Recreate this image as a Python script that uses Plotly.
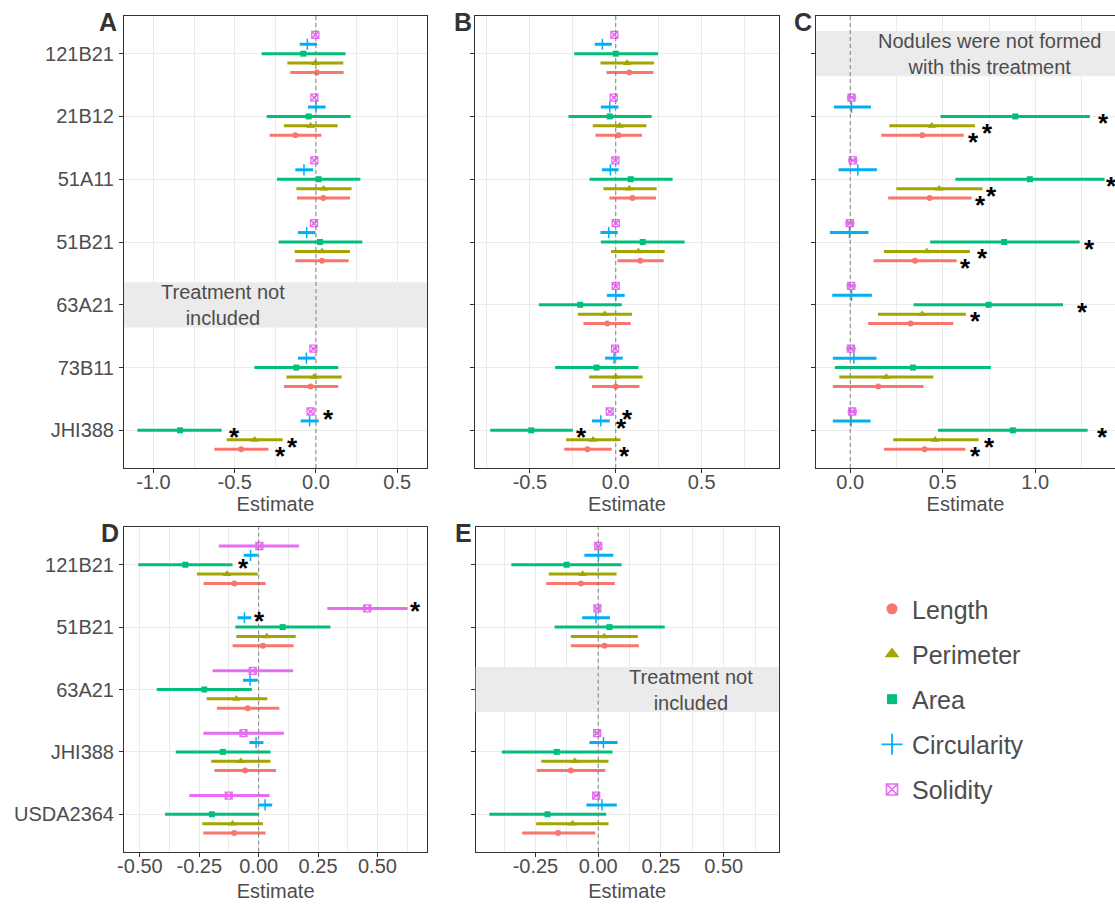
import plotly.graph_objects as go

W, H = 1115, 904

MEASURES = ["Length", "Perimeter", "Area", "Circularity", "Solidity"]
COLORS = ["#F8766D", "#A3A500", "#00BF7D", "#00B0F6", "#E76BF3"]

# ---------------- Panel A ----------------
A_CATS = ["121B21", "21B12", "51A11", "51B21", "63A21", "73B11", "JHI388"]
A_EST = [
    [0.006, -0.127, 0.045, 0.037, None, -0.033, -0.461],
    [-0.004, -0.033, 0.047, 0.037, None, -0.012, -0.377],
    [-0.078, -0.045, 0.016, 0.025, None, -0.121, -0.836],
    [-0.053, 0.000, -0.074, -0.057, None, -0.059, -0.039],
    [-0.004, -0.010, -0.010, -0.012, None, -0.016, -0.033],
]
A_LO = [
    [-0.158, -0.285, -0.117, -0.127, None, -0.197, -0.625],
    [-0.176, -0.197, -0.121, -0.131, None, -0.182, -0.549],
    [-0.334, -0.303, -0.240, -0.230, None, -0.379, -1.099],
    [-0.100, -0.049, -0.127, -0.111, None, -0.111, -0.094],
    [-0.014, -0.020, -0.020, -0.022, None, -0.026, -0.043],
]
A_HI = [
    [0.170, 0.033, 0.209, 0.201, None, 0.137, -0.293],
    [0.168, 0.133, 0.219, 0.209, None, 0.158, -0.205],
    [0.182, 0.213, 0.273, 0.285, None, 0.137, -0.580],
    [0.006, 0.059, -0.018, -0.004, None, -0.004, 0.016],
    [0.006, 0.000, 0.000, -0.002, None, -0.006, -0.023],
]
A_STAR = [
    [None, None, None, None, None, None, -0.221],
    [None, None, None, None, None, None, -0.143],
    [None, None, None, None, None, None, -0.502],
    [None, None, None, None, None, None, None],
    [None, None, None, None, None, None, 0.076],
]

# ---------------- Panel B ----------------
B_CATS = A_CATS
B_EST = [
    [0.079, 0.016, 0.097, 0.143, -0.050, 0.000, -0.165],
    [0.066, 0.023, 0.079, 0.132, -0.064, 0.000, -0.132],
    [0.000, -0.035, 0.087, 0.157, -0.207, -0.112, -0.492],
    [-0.078, -0.035, -0.031, -0.041, 0.000, -0.010, -0.087],
    [-0.008, -0.012, -0.002, 0.000, 0.000, -0.004, -0.035],
]
B_LO = [
    [-0.054, -0.118, -0.037, 0.010, -0.188, -0.138, -0.300],
    [-0.089, -0.134, -0.072, -0.027, -0.221, -0.155, -0.289],
    [-0.242, -0.275, -0.153, -0.087, -0.448, -0.353, -0.731],
    [-0.122, -0.087, -0.081, -0.089, -0.052, -0.062, -0.138],
    [-0.018, -0.022, -0.012, -0.010, -0.010, -0.014, -0.045],
]
B_HI = [
    [0.219, 0.153, 0.234, 0.279, 0.087, 0.138, -0.023],
    [0.223, 0.178, 0.238, 0.285, 0.095, 0.157, 0.027],
    [0.246, 0.209, 0.331, 0.401, 0.035, 0.132, -0.250],
    [-0.023, 0.016, 0.017, 0.012, 0.052, 0.041, -0.035],
    [0.002, -0.002, 0.008, 0.010, 0.010, 0.006, -0.025],
]
B_STAR = [
    [None, None, None, None, None, None, 0.050],
    [None, None, None, None, None, None, None],
    [None, None, None, None, None, None, -0.198],
    [None, None, None, None, None, None, 0.035],
    [None, None, None, None, None, None, 0.070],
]

# ---------------- Panel C ----------------
C_CATS = A_CATS
C_EST = [
    [None, 0.389, 0.429, 0.350, 0.326, 0.151, 0.402],
    [None, 0.441, 0.481, 0.414, 0.389, 0.195, 0.459],
    [None, 0.892, 0.971, 0.832, 0.748, 0.339, 0.879],
    [None, 0.007, 0.041, -0.004, 0.007, 0.020, 0.005],
    [None, 0.007, 0.014, -0.002, 0.005, 0.004, 0.011],
]
C_LO = [
    [None, 0.168, 0.205, 0.126, 0.097, -0.094, 0.182],
    [None, 0.211, 0.249, 0.182, 0.150, -0.059, 0.232],
    [None, 0.488, 0.568, 0.432, 0.342, -0.083, 0.474],
    [None, -0.088, -0.063, -0.110, -0.097, -0.094, -0.094],
    [None, -0.018, -0.011, -0.027, -0.020, -0.021, -0.014],
]
C_HI = [
    [None, 0.613, 0.656, 0.575, 0.557, 0.396, 0.623],
    [None, 0.674, 0.715, 0.647, 0.625, 0.449, 0.694],
    [None, 1.295, 1.375, 1.240, 1.150, 0.760, 1.283],
    [None, 0.112, 0.144, 0.099, 0.117, 0.142, 0.110],
    [None, 0.032, 0.039, 0.023, 0.030, 0.029, 0.036],
]
C_STAR = [
    [None, 0.665, 0.703, 0.625, None, None, 0.676],
    [None, 0.741, 0.762, 0.714, 0.676, None, 0.750],
    [None, 1.371, 1.413, 1.292, 1.258, None, 1.362],
    [None, None, None, None, None, None, None],
    [None, None, None, None, None, None, None],
]

# ---------------- Panel D ----------------
D_CATS = ["121B21", "51B21", "63A21", "JHI388", "USDA2364"]
D_EST = [
    [-0.102, 0.018, -0.046, -0.057, -0.103],
    [-0.133, 0.034, -0.094, -0.075, -0.110],
    [-0.309, 0.101, -0.229, -0.151, -0.197],
    [-0.034, -0.060, -0.036, -0.011, 0.027],
    [0.003, 0.457, -0.025, -0.064, -0.126],
]
D_LO = [
    [-0.232, -0.110, -0.176, -0.186, -0.233],
    [-0.260, -0.094, -0.219, -0.200, -0.237],
    [-0.507, -0.098, -0.429, -0.349, -0.394],
    [-0.063, -0.089, -0.066, -0.039, -0.003],
    [-0.168, 0.289, -0.194, -0.233, -0.292],
]
D_HI = [
    [0.029, 0.147, 0.087, 0.073, 0.029],
    [-0.004, 0.156, 0.036, 0.050, 0.018],
    [-0.110, 0.302, -0.029, 0.050, 0.001],
    [-0.004, -0.031, -0.004, 0.020, 0.057],
    [0.170, 0.627, 0.145, 0.106, 0.046],
]
D_STAR = [
    [None, None, None, None, None],
    [None, None, None, None, None],
    [-0.064, None, None, None, None],
    [None, 0.003, None, None, None],
    [None, 0.662, None, None, None],
]

# ---------------- Panel E ----------------
E_CATS = D_CATS
E_EST = [
    [-0.069, 0.025, None, -0.109, -0.160],
    [-0.062, 0.024, None, -0.093, -0.102],
    [-0.126, 0.045, None, -0.165, -0.202],
    [0.001, -0.009, None, 0.021, 0.015],
    [0.000, -0.003, None, -0.004, -0.008],
]
E_LO = [
    [-0.207, -0.109, None, -0.245, -0.303],
    [-0.197, -0.109, None, -0.227, -0.247],
    [-0.346, -0.174, None, -0.384, -0.434],
    [-0.055, -0.064, None, -0.035, -0.047],
    [-0.010, -0.013, None, -0.014, -0.018],
]
E_HI = [
    [0.066, 0.162, None, 0.028, -0.012],
    [0.073, 0.158, None, 0.041, 0.041],
    [0.093, 0.265, None, 0.057, 0.032],
    [0.060, 0.047, None, 0.077, 0.074],
    [0.010, 0.007, None, 0.006, 0.002],
]
E_STAR = [[None] * 5 for _ in range(5)]

# x-axis ticks per panel
A_TICKS = [-1.0, -0.5, 0.0, 0.5]
A_TICKTEXT = ["-1.0", "-0.5", "0.0", "0.5"]
B_TICKS = [-0.5, 0.0, 0.5]
B_TICKTEXT = ["-0.5", "0.0", "0.5"]
C_TICKS = [0.0, 0.5, 1.0]
C_TICKTEXT = ["0.0", "0.5", "1.0"]
D_TICKS = [-0.5, -0.25, 0.0, 0.25, 0.5]
D_TICKTEXT = ["-0.50", "-0.25", "0.00", "0.25", "0.50"]
E_TICKS = [-0.25, 0.0, 0.25, 0.5]
E_TICKTEXT = ["-0.25", "0.00", "0.25", "0.50"]

# notes: (category, text, x position of text)
A_NOTE = ("63A21", "Treatment not<br>included", -0.57)
C_NOTE = ("121B21", "Nodules were not formed<br>with this treatment", 0.755)
E_NOTE = ("63A21", "Treatment not<br>included", 0.37)


def px_x(v):
    return v / W


def px_y(v):
    return 1 - v / H


panels = [
    dict(lab="A", cats=A_CATS, est=A_EST, lo=A_LO, hi=A_HI, star=A_STAR,
         ticks=A_TICKS, ticktext=A_TICKTEXT, minor=[-0.75, -0.25, 0.25],
         xr=[-1.181, 0.683], xd=[124, 427], yd=[16, 468], note=A_NOTE,
         showlab=True, mirror_y=True, labpos=(108, 22), sshift=0, tstand=4),
    dict(lab="B", cats=B_CATS, est=B_EST, lo=B_LO, hi=B_HI, star=B_STAR,
         ticks=B_TICKS, ticktext=B_TICKTEXT, minor=[-0.75, -0.25, 0.25, 0.75],
         xr=[-0.818, 0.949], xd=[475.3, 778.7], yd=[16, 468], note=None,
         showlab=False, mirror_y=True, labpos=(463, 22), sshift=0, tstand=4),
    dict(lab="C", cats=C_CATS, est=C_EST, lo=C_LO, hi=C_HI, star=C_STAR,
         ticks=C_TICKS, ticktext=C_TICKTEXT, minor=[0.25, 0.75, 1.25],
         xr=[-0.185, 1.431], xd=[816, 1115], yd=[16, 468], note=C_NOTE,
         showlab=False, mirror_y=False, labpos=(803, 22), sshift=0, tstand=4),
    dict(lab="D", cats=D_CATS, est=D_EST, lo=D_LO, hi=D_HI, star=D_STAR,
         ticks=D_TICKS, ticktext=D_TICKTEXT, minor=[-0.375, -0.125, 0.125, 0.375, 0.625],
         xr=[-0.567, 0.710], xd=[124, 427.3], yd=[527.3, 851.7], note=None,
         showlab=True, mirror_y=True, labpos=(110, 533), sshift=4, tstand=8),
    dict(lab="E", cats=E_CATS, est=E_EST, lo=E_LO, hi=E_HI, star=E_STAR,
         ticks=E_TICKS, ticktext=E_TICKTEXT, minor=[-0.375, -0.125, 0.125, 0.375, 0.625],
         xr=[-0.488, 0.719], xd=[475.7, 778.7], yd=[527.3, 851.7], note=E_NOTE,
         showlab=False, mirror_y=True, labpos=(463, 533), sshift=0, tstand=8),
]

SYMBOLS = ["circle", "triangle-up", "square", "cross-thin", "square-x-open"]
SIZES = [6, 7.5, 6, 8, 7]
LINEW = [0, 0, 0, 1.5, 1.3]

FONT = "Liberation Sans, Arial, sans-serif"
TXT = "#4D4D4D"

fig = go.Figure()
layout = dict(
    width=W, height=H, margin=dict(l=0, r=0, t=0, b=0, autoexpand=False),
    plot_bgcolor="white", paper_bgcolor="white",
    font=dict(family=FONT, size=20, color=TXT),
    shapes=[], annotations=[],
)

for p, pan in enumerate(panels, start=1):
    sx = "" if p == 1 else str(p)
    xref, yref = "x" + sx, "y" + sx
    n = len(pan["cats"])
    for m, meas in enumerate(MEASURES):
        off = (2 - m) * 0.15
        est, lo, hi = pan["est"][m], pan["lo"][m], pan["hi"][m]
        ys = [i + off for i in range(n)]
        plus = [(h - e) if e is not None else 0 for e, h in zip(est, hi)]
        minus = [(e - l) if e is not None else 0 for e, l in zip(est, lo)]
        fig.add_trace(go.Scatter(
            x=est, y=ys, xaxis=xref, yaxis=yref, mode="markers",
            marker=dict(symbol=SYMBOLS[m], size=SIZES[m], color=COLORS[m],
                        line=dict(color=COLORS[m], width=LINEW[m])),
            error_x=dict(type="data", symmetric=False, array=plus, arrayminus=minus,
                         thickness=3, width=0, color=COLORS[m]),
            showlegend=False, hoverinfo="skip", cliponaxis=False,
        ))
        for i, sxv in enumerate(pan["star"][m]):
            if sxv is not None:
                layout["annotations"].append(dict(
                    x=sxv, y=i + off, xref=xref, yref=yref, text="<b>*</b>",
                    showarrow=False, xanchor="center", yanchor="middle",
                    yshift=-7 + pan["sshift"],
                    font=dict(size=26, color="black", family=FONT)))
    layout["xaxis" + sx] = dict(
        domain=[px_x(pan["xd"][0]), px_x(pan["xd"][1])], anchor=yref,
        range=pan["xr"], tickmode="array", tickvals=pan["ticks"], ticktext=pan["ticktext"],
        showgrid=True, gridcolor="#EBEBEB", gridwidth=1.1, zeroline=False,
        minor=dict(tickmode="array", tickvals=pan["minor"], showgrid=True,
                   gridcolor="#EBEBEB", gridwidth=0.6, ticks=""),
        ticks="outside", ticklen=4, tickcolor="#333333", tickwidth=1,
        showline=True, mirror=True, linecolor="#333333", linewidth=1,
        tickfont=dict(size=20, color=TXT), ticklabelstandoff=-8, automargin=False,
        title=dict(text="Estimate", font=dict(size=20, color=TXT), standoff=pan["tstand"]),
    )
    layout["yaxis" + sx] = dict(
        domain=[px_y(pan["yd"][1]), px_y(pan["yd"][0])], anchor=xref,
        range=[n - 0.4, -0.6], tickmode="array", tickvals=list(range(n)),
        ticktext=pan["cats"] if pan["showlab"] else [""] * n,
        showgrid=True, gridcolor="#EBEBEB", gridwidth=1.1, zeroline=False,
        ticks="outside", ticklen=4, tickcolor="#333333", tickwidth=1,
        showline=True, mirror=pan["mirror_y"], linecolor="#333333", linewidth=1,
        tickfont=dict(size=20, color=TXT), ticklabelstandoff=1, automargin=False,
    )
    if pan["note"] is not None:
        cat, text, tx = pan["note"]
        idx = pan["cats"].index(cat)
        layout["shapes"].append(dict(
            type="rect", xref=xref + " domain", yref=yref, x0=0, x1=1,
            y0=idx - 0.36, y1=idx + 0.36, fillcolor="#EBEBEB",
            line=dict(width=0), layer="above"))
        layout["annotations"].append(dict(
            x=tx, y=idx, xref=xref, yref=yref, text=text, showarrow=False,
            xanchor="center", yanchor="middle",
            font=dict(size=20, color=TXT, family=FONT)))
    layout["shapes"].append(dict(
        type="line", xref=xref, yref=yref + " domain", x0=0, x1=0, y0=0, y1=1,
        line=dict(color="#7F7F7F", width=1, dash="4px,3px"), layer="above"))
    lx, ly = pan["labpos"]
    layout["annotations"].append(dict(
        x=px_x(lx), y=px_y(ly), xref="paper", yref="paper", text="<b>%s</b>" % pan["lab"],
        showarrow=False, xanchor="center", yanchor="middle",
        font=dict(size=25, color="#333333", family=FONT)))

LEG_SIZES = [11, 13, 10, 15, 11]
for m, meas in enumerate(MEASURES):
    fig.add_trace(go.Scatter(
        x=[None], y=[None], mode="markers", name=meas, legendgroup=meas,
        marker=dict(symbol=SYMBOLS[m], size=LEG_SIZES[m], color=COLORS[m],
                    line=dict(color=COLORS[m], width=LINEW[m] * 1.2)),
        showlegend=True))

layout["legend"] = dict(
    x=px_x(872), y=px_y(586), xanchor="left", yanchor="top",
    font=dict(size=25, color=TXT, family=FONT), tracegroupgap=9.7,
    bgcolor="rgba(0,0,0,0)", itemsizing="trace",
)

fig.update_layout(**layout)
fig.write_html("out.html")
